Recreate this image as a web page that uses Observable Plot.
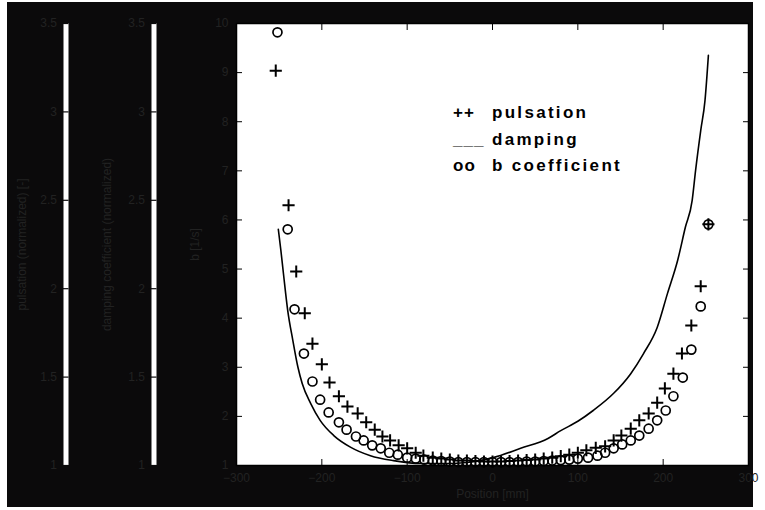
<!DOCTYPE html>
<html><head><meta charset="utf-8">
<script src="https://cdn.jsdelivr.net/npm/d3@7"></script>
<script src="https://cdn.jsdelivr.net/npm/@observablehq/plot@0.6"></script>
<style>
html,body{margin:0;padding:0;background:#fff;}
#wrap{position:relative;width:765px;height:510px;background:#fff;overflow:hidden;}
#bg{position:absolute;left:7px;top:2px;width:746px;height:505px;background:#0b0a0b;}
#wrap svg{position:absolute;left:0;top:0;}
#legend{position:absolute;left:453px;top:100px;font:bold 17px "Liberation Sans",Arial,Helvetica,sans-serif;color:#000;line-height:26.5px;white-space:pre;}
#legend .m{display:inline-block;width:39px;letter-spacing:1px;}
#legend .t{letter-spacing:2.3px;}
</style></head><body>
<div id="wrap"><div id="bg"></div><div id="plots"></div><div id="legend"></div></div>
<script>
// ---- data ----
const xTicks = [-300, -200, -100, 0, 100, 200, 300];
const yTicks = [1, 2, 3, 4, 5, 6, 7, 8, 9, 10];
const sideTicks = [1, 1.5, 2, 2.5, 3, 3.5];

const pulsX = [-254,-239,-230,-220,-211,-200,-191,-180,-170,-158,-148,-138,-129,-120,-110,-100,-90,-81,-70,-60,-50,-40,-30,-20,-10,0,10,20,30,40,50,60,70,80,90,100,110,121,132,142,151,162,172,183,193,202,212,222,233,244,253];
const pulsY = [9.04,6.30,4.95,4.10,3.48,3.06,2.69,2.41,2.20,2.06,1.88,1.73,1.59,1.51,1.41,1.35,1.26,1.20,1.16,1.14,1.12,1.10,1.10,1.09,1.08,1.08,1.08,1.09,1.10,1.11,1.12,1.14,1.16,1.19,1.22,1.26,1.31,1.36,1.39,1.51,1.61,1.75,1.92,2.06,2.28,2.57,2.87,3.28,3.85,4.65,5.91];

const bX = [-252,-240,-232,-221,-211,-202,-192,-180,-171,-160,-151,-141,-131,-121,-111,-100,-90,-80,-70,-60,-50,-40,-30,-20,-10,0,10,20,30,40,50,60,70,80,90,100,112,123,132,142,152,162,172,183,193,203,212,223,233,244,253];
const bY = [9.82,5.81,4.18,3.28,2.71,2.34,2.08,1.88,1.73,1.59,1.51,1.41,1.35,1.26,1.22,1.16,1.14,1.12,1.10,1.09,1.08,1.07,1.07,1.07,1.07,1.07,1.07,1.07,1.07,1.08,1.08,1.09,1.10,1.11,1.12,1.14,1.16,1.20,1.26,1.35,1.43,1.51,1.61,1.75,1.92,2.12,2.41,2.79,3.36,4.24,5.91];

const dampX = [-251,-248,-245,-240,-234,-228,-223,-213,-202,-186,-166,-143,-116,-84,-53,-30,1,33,65,80,100,118,142,162,177,193,205,217,226,234,238,244,249,253];
const dampY = [5.81,5.38,4.91,4.16,3.55,3.00,2.67,2.26,1.92,1.61,1.37,1.20,1.10,1.04,1.04,1.06,1.16,1.35,1.55,1.71,1.90,2.12,2.47,2.87,3.28,3.81,4.50,5.18,5.85,6.40,7.01,7.82,8.43,9.35];

const legendItems = [["++", "pulsation"], ["___", "damping"], ["oo", "b coefficient"]];
const labels = {x: "Position [mm]", y: "b [1/s]", side1: "pulsation (normalized) [-]", side2: "damping coefficient (normalized)"};

// ---- styles ----
const font = '"Liberation Sans", Arial, Helvetica, sans-serif';
const textColor = "#222";
const bgColor = "#0b0a0b";
const H = 510, W = 765, MT = 23, MB = 45;

const pulsation = pulsX.map((x, i) => ({x, y: pulsY[i]}));
const bcoef = bX.map((x, i) => ({x, y: bY[i]}));
const damping = dampX.map((x, i) => ({x, y: dampY[i]}));

const main = Plot.plot({
  width: W, height: H,
  marginLeft: 236, marginRight: 17, marginTop: MT, marginBottom: MB,
  style: {background: "transparent", fontFamily: font, fontSize: "12px", overflow: "visible"},
  x: {domain: [-300, 300]},
  y: {domain: [1, 10]},
  marks: [
    Plot.frame({fill: "white", stroke: "none"}),
    Plot.line(damping, {x: "x", y: "y", stroke: "black", strokeWidth: 1.6, curve: "monotone-x"}),
    Plot.dot(bcoef, {x: "x", y: "y", symbol: "circle", r: 4.5, stroke: "black", strokeWidth: 1.7, fill: "none"}),
    Plot.dot(pulsation, {x: "x", y: "y", symbol: "plus", r: 4, stroke: "black", strokeWidth: 2}),
    Plot.axisX({ticks: xTicks, anchor: "bottom", tickSize: -6, fill: "none", stroke: "black", label: null}),
    Plot.axisX({ticks: xTicks, anchor: "top", tickSize: -6, fill: "none", stroke: "black", label: null}),
    Plot.axisY({ticks: yTicks, anchor: "left", tickSize: -6, fill: "none", stroke: "black", label: null}),
    Plot.axisY({ticks: yTicks, anchor: "right", tickSize: -6, fill: "none", stroke: "black", label: null}),
    Plot.axisX({ticks: xTicks, anchor: "bottom", tickSize: 0, tickPadding: 8, stroke: "none", fill: textColor,
      label: labels.x, labelAnchor: "center", labelOffset: 32, labelArrow: "none"}),
    Plot.axisY({ticks: yTicks, anchor: "left", tickSize: 0, tickPadding: 8, stroke: "none", fill: textColor,
      label: labels.y, labelAnchor: "center", labelOffset: 46, labelArrow: "none"}),
    Plot.frame({stroke: "black", strokeWidth: 1.5, fill: "none"})
  ]
});

function sideAxis(axisPos, label, offset) {
  return Plot.plot({
    width: W, height: H,
    marginLeft: axisPos, marginRight: 0, marginTop: MT, marginBottom: MB,
    style: {background: "transparent", fontFamily: font, fontSize: "12px", overflow: "visible"},
    x: {domain: [0, 1], axis: null},
    y: {domain: [1, 3.5], axis: null},
    marks: [
      Plot.ruleX([0], {stroke: "white", strokeWidth: 5}),
      Plot.axisY({ticks: sideTicks, anchor: "left", tickSize: 8, dx: 3, fill: "none", stroke: bgColor, strokeWidth: 1.2, label: null}),
      Plot.axisY({ticks: sideTicks, anchor: "left", tickSize: 0, tickPadding: 9, stroke: "none", fill: textColor,
        tickFormat: d => String(d), label, labelAnchor: "center", labelOffset: offset, labelArrow: "none"})
    ]
  });
}

const plots = document.getElementById("plots");
plots.appendChild(main);
plots.appendChild(sideAxis(65.5, labels.side1, 48.5));
plots.appendChild(sideAxis(153.5, labels.side2, 51.5));

const legend = document.getElementById("legend");
legendItems.forEach(([m, t], i) => {
  const row = document.createElement("div");
  const ms = document.createElement("span"); ms.className = "m"; ms.textContent = m;
  const ts = document.createElement("span"); ts.className = "t"; ts.textContent = t;
  row.appendChild(ms); row.appendChild(ts);
  legend.appendChild(row);
});
</script>
</body></html>
